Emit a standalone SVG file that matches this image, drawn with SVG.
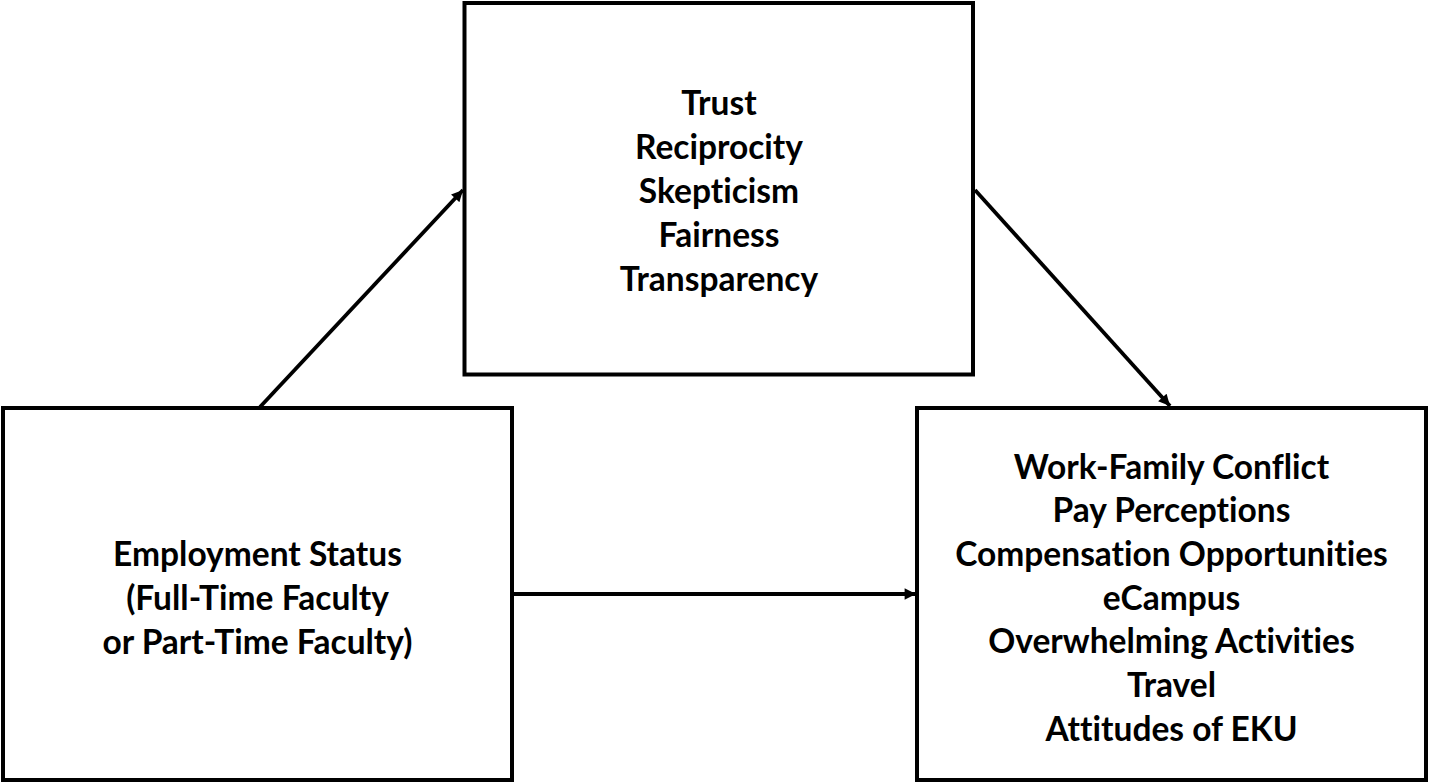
<svg xmlns="http://www.w3.org/2000/svg" width="1429" height="783" viewBox="0 0 1429 783">
  <style>
    .box { fill: #ffffff; stroke: #000000; stroke-width: 4; }
    .lbl { font-family: "Lato", "Liberation Sans", sans-serif; font-weight: bold; font-size: 33.5px; fill: #000000; text-anchor: middle; font-variant-ligatures: none; font-feature-settings: "liga" 0; }
    .edge { stroke: #000000; stroke-width: 3.8; fill: none; marker-end: url(#arrow); }
  </style>
  <defs>
    <marker id="arrow" viewBox="0 0 10 10" refX="10" refY="5" markerWidth="3.4" markerHeight="3" markerUnits="strokeWidth" orient="auto">
      <path d="M0,0 L10,5 L0,10 Z" fill="#000000"/>
    </marker>
  </defs>
  <rect width="1429" height="783" fill="#ffffff"/>

  <g id="mediators">
    <rect class="box" x="464.5" y="3" width="508.5" height="371.5"/>
    <text class="lbl" x="719" y="114.5">Trust</text>
    <text class="lbl" x="719" y="158.5">Reciprocity</text>
    <text class="lbl" x="719" y="202.5">Skepticism</text>
    <text class="lbl" x="719" y="246.5">Fairness</text>
    <text class="lbl" x="719" y="290.5">Transparency</text>
  </g>

  <g id="employment-status">
    <rect class="box" x="3" y="408" width="509" height="372"/>
    <text class="lbl" x="257.5" y="565.5">Employment Status</text>
    <text class="lbl" x="257.5" y="609.5">(Full-Time Faculty</text>
    <text class="lbl" x="257.5" y="653.5">or Part-Time Faculty)</text>
  </g>

  <g id="outcomes">
    <rect class="box" x="917" y="408" width="509" height="372"/>
    <text class="lbl" x="1171.5" y="478.5">Work-Family Conflict</text>
    <text class="lbl" x="1171.5" y="522">Pay Perceptions</text>
    <text class="lbl" x="1171.5" y="565.5">Compensation Opportunities</text>
    <text class="lbl" x="1171.5" y="609.5">eCampus</text>
    <text class="lbl" x="1171.5" y="653">Overwhelming Activities</text>
    <text class="lbl" x="1171.5" y="696.5">Travel</text>
    <text class="lbl" x="1171.5" y="740.5">Attitudes of EKU</text>
  </g>

  <g id="connectors">
    <line class="edge" x1="260" y1="407" x2="463" y2="190"/>
    <line class="edge" x1="975" y1="190" x2="1170" y2="406"/>
    <line class="edge" x1="512" y1="594" x2="916" y2="594"/>
  </g>
</svg>
